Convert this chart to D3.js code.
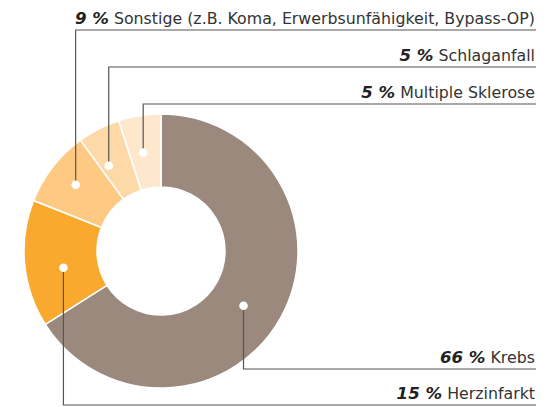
<!doctype html>
<html lang="de">
    <head>
        <meta charset="utf-8">
        <title>Todesursachen</title>
        <script src="https://cdn.jsdelivr.net/npm/d3@7"></script>
        <style>
            body { margin: 0; background: #fff; }
            text { font-family: "DejaVu Sans", sans-serif; }
        </style>
    </head>
    <body>
        <script type="text/javascript">
            // data
            var labels = ["Krebs", "Herzinfarkt", "Sonstige (z.B. Koma, Erwerbsunfähigkeit, Bypass-OP)", "Schlaganfall", "Multiple Sklerose"];
            var values = [66, 15, 9, 5, 5];
            var colors = ["#9b897e", "#f9aa2e", "#fdc983", "#fed9a8", "#fee8cd"];

            // layout of the call-outs (where the dot sits inside its slice, where its label line runs)
            var dotFrac = [0.52, 0.42, 0.5, 0.25, 0.43];
            var dotR = [99, 99, 108, 100, 100];
            var lineY = [369, 405, 30, 67, 104];

            var svgW = 550, svgH = 407;
            var cx = 161, cy = 251;
            var outerRadius = 137, innerRadius = 64;
            var rightX = 536;

            var svg = d3.select("body")
                        .append("svg")
                        .attr("width", svgW)
                        .attr("height", svgH);

            var pie = d3.pie().sort(null).value(d => d);
            var arc = d3.arc()
                        .innerRadius(innerRadius)
                        .outerRadius(outerRadius);

            var slices = pie(values);

            var g = svg.append("g")
                       .attr("transform", "translate(" + cx + "," + cy + ")");

            g.selectAll("path")
             .data(slices)
             .enter()
             .append("path")
             .attr("d", arc)
             .attr("fill", (_, i) => colors[i])
             .attr("stroke", "#fff")
             .attr("stroke-width", 1.5);

            // dot positions
            var dots = slices.map((d, i) => {
                var a = d.startAngle + dotFrac[i] * (d.endAngle - d.startAngle);
                var p = d3.pointRadial(a, dotR[i]);
                return [cx + p[0], cy + p[1]];
            });

            // leader lines
            svg.selectAll("path.leader")
               .data(dots)
               .enter()
               .append("path")
               .attr("class", "leader")
               .attr("fill", "none")
               .attr("stroke", "#555")
               .attr("stroke-width", 1.2)
               .attr("d", (p, i) => "M" + p[0] + "," + p[1] + "V" + lineY[i] + "H" + rightX);

            svg.selectAll("circle")
               .data(dots)
               .enter()
               .append("circle")
               .attr("cx", p => p[0])
               .attr("cy", p => p[1])
               .attr("r", 4.3)
               .attr("fill", "#fff");

            var labelText = svg.selectAll("text.label")
                               .data(labels)
                               .enter()
                               .append("text")
                               .attr("class", "label")
                               .attr("x", rightX - 1)
                               .attr("y", (_, i) => lineY[i] - 6)
                               .attr("text-anchor", "end")
                               .attr("font-size", 15.8)
                               .attr("fill", "#333");

            labelText.append("tspan")
                     .attr("font-weight", "bold")
                     .attr("font-style", "italic")
                     .attr("font-size", 16.6)
                     .attr("fill", "#222")
                     .text((_, i) => values[i] + " %");

            labelText.append("tspan")
                     .text(d => " " + d);
        </script>
    </body>
</html>
